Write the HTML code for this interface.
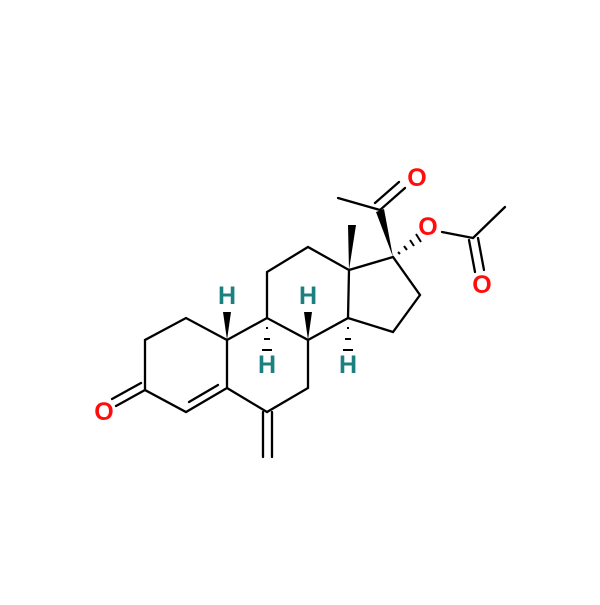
<!DOCTYPE html>
<html><head><meta charset="utf-8"><style>
html,body{margin:0;padding:0;background:#fff;}
svg{display:block}
text{font-family:"Liberation Sans",sans-serif;font-weight:bold;font-size:25px;text-anchor:middle;dominant-baseline:central}
.o{fill:#ff0d0d}.h{fill:#1a8080}
</style></head><body>
<svg width="600" height="605" viewBox="0 0 600 605" xmlns="http://www.w3.org/2000/svg">
<g stroke="#000" stroke-width="2.3" fill="none" stroke-linecap="round">
<polyline points="227,340 186,318 145,340 145,390 186,412 227,388 227,340"/>
<line x1="189" y1="402" x2="218" y2="385"/>
<line x1="145" y1="390" x2="116" y2="406"/>
<line x1="141" y1="383" x2="112" y2="399"/>
<polyline points="227,340 267,318 308,340 308,388 267,412 227,388"/>
<line x1="263" y1="412" x2="263" y2="457"/>
<line x1="272" y1="412" x2="272" y2="457"/>
<polyline points="267,318 267,272 308,247 349,270 348,318 308,340"/>
<polyline points="349,270 393,257 420,295 393,332 348,318"/>
<line x1="380" y1="210" x2="338" y2="198"/>
<line x1="380" y1="210" x2="405" y2="188"/>
<line x1="375" y1="203" x2="399" y2="182"/>
<line x1="442" y1="232" x2="473" y2="238"/>
<line x1="473" y1="238" x2="505" y2="207"/>
<line x1="469" y1="240" x2="475" y2="272"/>
<line x1="478" y1="238" x2="484" y2="270"/>
</g>
<g fill="#000">
<polygon points="227,340 223,312 231,312"/>
<polygon points="308,340 304,312 312,312"/>
<polygon points="349,270 348,225 356,225"/>
<polygon points="393,257 376,212 384,209"/>
<rect x="266" y="327" width="2" height="2"/>
<rect x="264" y="338" width="6" height="2"/>
<rect x="262" y="349" width="10" height="2"/>
<rect x="347" y="327" width="2" height="2"/>
<rect x="345" y="338" width="6" height="2"/>
<rect x="343" y="349" width="10" height="2"/>
</g>
<g stroke="#000" stroke-width="2">
<line x1="398" y1="252" x2="400" y2="254"/>
<line x1="404" y1="246" x2="407" y2="250"/>
<line x1="410" y1="240" x2="414" y2="246"/>
<line x1="416" y1="234" x2="421" y2="242"/>
</g>
<text x="104" y="412" class="o">O</text>
<text x="417" y="178" class="o">O</text>
<text x="428" y="227" class="o">O</text>
<text x="482" y="285" class="o">O</text>
<text x="227" y="296" class="h">H</text>
<text x="308" y="296" class="h">H</text>
<text x="267" y="365" class="h">H</text>
<text x="348" y="365" class="h">H</text>
</svg>
</body></html>
